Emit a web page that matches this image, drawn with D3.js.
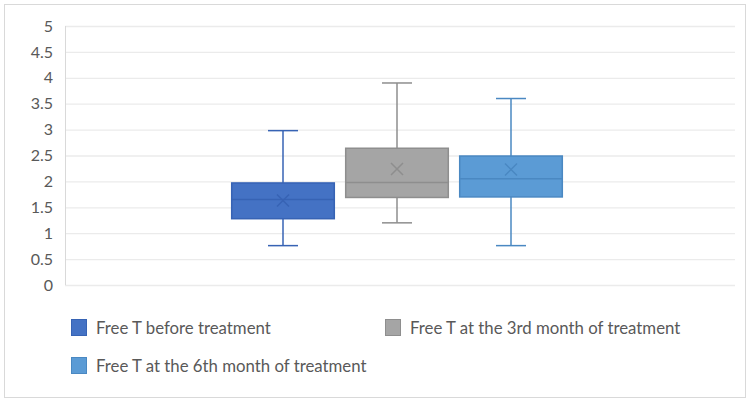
<!DOCTYPE html>
<html><head><meta charset="utf-8">
<script src="https://cdn.jsdelivr.net/npm/d3@7"></script>
<style>body{margin:0;background:#fff}svg{display:block}</style>
</head><body><svg id="c" width="750" height="403"></svg>
<script>
const seriesNames = ["Free T before treatment","Free T at the 3rd month of treatment","Free T at the 6th month of treatment"];
const whiskerLow = [0.76, 1.2, 0.76];
const q1 = [1.28, 1.69, 1.7];
const median = [1.65, 1.98, 2.05];
const q3 = [1.97, 2.64, 2.49];
const whiskerHigh = [2.98, 3.9, 3.6];
const mean = [1.63, 2.24, 2.23];
const yTicks = [0,0.5,1,1.5,2,2.5,3,3.5,4,4.5,5];
const fills = ["#4472C4","#A5A5A5","#5B9BD5"];
const strokes = ["#3763B4","#8E8E8E","#4A88C2"];

const svg = d3.select("#c");
const font = "Lato, 'Open Sans', sans-serif";
svg.append("rect").attr("x",4.5).attr("y",4.5).attr("width",741).attr("height",393)
  .attr("fill","#fff").attr("stroke","#D9D9D9");

const y = d3.scaleLinear().domain([0,5]).range([285,26]);
const x = d3.scaleBand().domain(d3.range(3)).range([226,568]).paddingInner(0.1).paddingOuter(0.05);

const yAxis = svg.append("g").attr("transform","translate(65,0)")
  .call(d3.axisLeft(y).tickValues(yTicks).tickSize(-670).tickPadding(12).tickFormat(d3.format("")));
yAxis.select(".domain").remove();
yAxis.selectAll(".tick line").attr("stroke","#EBEBEB").attr("stroke-width",1.3);
yAxis.selectAll(".tick text").attr("fill","#595959").style("font-family",font).style("font-size","16px");
svg.append("line").attr("x1",65.5).attr("x2",65.5).attr("y1",y(5)).attr("y2",y(0)).attr("stroke","#D9D9D9");

const g = svg.append("g");
d3.range(3).forEach(i=>{
  const cx = x(i)+x.bandwidth()/2, bw = x.bandwidth(), cap=15;
  const s = strokes[i];
  g.append("line").attr("x1",cx).attr("x2",cx).attr("y1",y(whiskerHigh[i])).attr("y2",y(q3[i])).attr("stroke",s).attr("stroke-width",1.5);
  g.append("line").attr("x1",cx).attr("x2",cx).attr("y1",y(q1[i])).attr("y2",y(whiskerLow[i])).attr("stroke",s).attr("stroke-width",1.5);
  g.append("line").attr("x1",cx-cap).attr("x2",cx+cap).attr("y1",y(whiskerHigh[i])).attr("y2",y(whiskerHigh[i])).attr("stroke",s).attr("stroke-width",1.5);
  g.append("line").attr("x1",cx-cap).attr("x2",cx+cap).attr("y1",y(whiskerLow[i])).attr("y2",y(whiskerLow[i])).attr("stroke",s).attr("stroke-width",1.5);
  g.append("rect").attr("x",x(i)).attr("width",bw).attr("y",y(q3[i])).attr("height",y(q1[i])-y(q3[i]))
    .attr("fill",fills[i]).attr("stroke",s).attr("stroke-width",1.5);
  g.append("line").attr("x1",x(i)).attr("x2",x(i)+bw).attr("y1",y(median[i])).attr("y2",y(median[i])).attr("stroke",s).attr("stroke-width",1.5);
  const my=y(mean[i]), m=6;
  g.append("path").attr("d",`M${cx-m},${my-m}L${cx+m},${my+m}M${cx-m},${my+m}L${cx+m},${my-m}`)
    .attr("stroke",s).attr("stroke-width",1.5).attr("fill","none");
});

const legPos = [[71,328],[385,328],[71,366]];
seriesNames.forEach((n,i)=>{
  const [lx,ly]=legPos[i];
  svg.append("rect").attr("x",lx+0.5).attr("y",ly-8.5).attr("width",15).attr("height",16)
    .attr("fill",fills[i]).attr("stroke",strokes[i]);
  svg.append("text").attr("x",lx+25).attr("y",ly+6).text(n).attr("fill","#595959")
    .style("font-family",font).style("font-size","16.8px");
});
</script></body></html>
